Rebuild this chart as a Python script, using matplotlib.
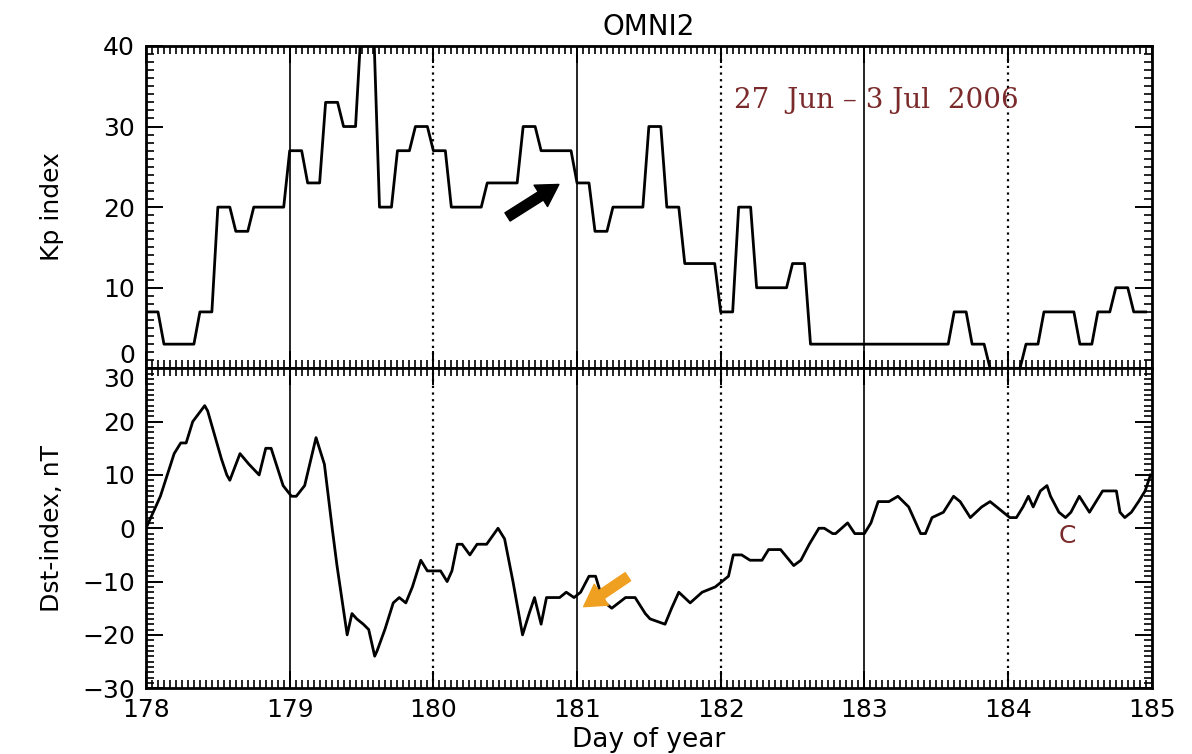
import numpy as np
import matplotlib

matplotlib.use("Agg")
import matplotlib.pyplot as plt
from matplotlib.ticker import MultipleLocator

# OMNI2, 27 Jun - 3 Jul 2006 (day of year 178-185)
day_ticks = [178, 179, 180, 181, 182, 183, 184, 185]
solid_days = [179, 181, 183]
dotted_days = [180, 182, 184]
kp_ticks = [0, 10, 20, 30, 40]
dst_ticks = [-30, -20, -10, 0, 10, 20, 30]

# Kp*10, one value per 3-hour interval, 8 per day
kp_3h = [
    7, 3, 3, 7, 20, 17, 20, 20,      # 178
    27, 23, 33, 30, 43, 20, 27, 30,  # 179
    27, 20, 20, 23, 23, 30, 27, 27,  # 180
    23, 17, 20, 20, 30, 20, 13, 13,  # 181
    7, 20, 10, 10, 13, 3, 3, 3,      # 182
    3, 3, 3, 3, 3, 7, 3, 0,          # 183
    0, 3, 7, 7, 3, 7, 10, 7,         # 184
]

# Dst (nT), hours since start of day 178
dst_hours = [
    0, 2.4, 4.7, 5.8, 6.7, 7.8, 9.8, 10.3, 12.6, 13.5, 14.0, 15.7, 17.2, 18.9, 20.0, 20.9, 22.9,
    24.3, 25.1, 26.5, 28.4, 29.8, 31.1, 31.9, 33.6, 34.4, 35.2, 36.3, 37.2, 38.2, 38.6, 39.9,
    41.3, 42.3, 43.4, 44.5, 45.9, 47.0,
    49.2, 50.3, 51.1, 52.0, 52.8, 54.1, 55.3, 56.9, 58.8, 59.9, 61.3, 62.9, 64.0, 64.9, 66.0,
    66.9, 68.0, 69.1, 70.2, 71.5,
    72.6, 74.0, 75.1, 75.9, 76.7, 77.8, 80.1, 81.7, 83.4, 84.2, 86.7, 87.8, 89.0, 90.9, 92.9, 95.1,
    96.2, 97.3, 98.1, 99.5, 100.9, 102.9, 104.0, 106.0, 108.2, 109.4, 110.8, 112.4, 113.3, 114.7,
    115.2, 117.2, 118.4, 120.0,
    121.1, 121.7, 122.3, 124.1, 125.6, 127.4, 129.4, 130.2, 131.3, 133.2, 134.9, 136.0, 137.7,
    139.6, 141.0, 142.1,
    144.3, 145.4, 146.5, 147.4, 148.2, 149.4, 150.5, 151.1, 152.5, 153.6, 154.5, 155.9, 157.6,
    158.7, 159.8, 161.3, 162.1, 162.7, 163.5, 164.6, 165.8, 166.9, 167.8,
]
dst_values = [
    0, 6, 14, 16, 16, 20, 23, 22, 13, 10, 9, 14, 12, 10, 15, 15, 8,
    6, 6, 8, 17, 12, 0, -7, -20, -16, -17, -18, -19, -24, -23, -19,
    -14, -13, -14, -11, -6, -8,
    -8, -10, -8, -3, -3, -5, -3, -3, 0, -2, -10, -20, -16, -13, -18,
    -13, -13, -13, -12, -13,
    -12, -9, -9, -12, -14, -15, -13, -13, -16, -17, -18, -15, -12, -14, -12, -11,
    -10, -9, -5, -5, -6, -6, -4, -4, -7, -6, -3, 0, 0, -1,
    -1, 1, -1, -1,
    1, 3, 5, 5, 6, 4, -1, -1, 2, 3, 6, 5, 2,
    4, 5, 4,
    2, 2, 4, 6, 4, 7, 8, 6, 3, 2, 3, 6, 3,
    5, 7, 7, 7, 3, 2, 3, 5, 7, 10,
]

# Kp is constant over each 3-hour interval; OMNI2 lists it hourly
kp_hourly = np.repeat(kp_3h, 3)
kp_time = 178 + np.arange(len(kp_hourly)) / 24.0
dst_time = 178 + np.array(dst_hours) / 24.0

plt.rcParams["font.family"] = ["DejaVu Sans"]

fig = plt.figure(figsize=(11.92, 7.54), dpi=100)
ax1 = fig.add_axes([0.1225, 0.5115, 0.8437, 0.4276])
ax2 = fig.add_axes([0.1225, 0.0873, 0.8437, 0.4242])


def style_axis(ax, ymin, ymax, yticks):
    ax.set_xlim(178, 185)
    ax.set_ylim(ymin, ymax)
    ax.set_xticks(day_ticks)
    ax.set_yticks(yticks)
    ax.xaxis.set_minor_locator(MultipleLocator(1 / 24.0))
    ax.yaxis.set_minor_locator(MultipleLocator(1))
    ax.tick_params(which="both", direction="in", top=True, right=True,
                   labelsize=18, colors="black")
    ax.tick_params(which="major", length=12, width=1.4, pad=8)
    ax.tick_params(which="minor", length=6, width=1.2)
    for sp in ax.spines.values():
        sp.set_linewidth(2)
    for d in solid_days:
        ax.axvline(d, color="black", linewidth=1.2, zorder=1)
    for d in dotted_days:
        ax.axvline(d, color="black", linewidth=1.6, linestyle=(0, (1, 2)), zorder=1)


arrow_style = "simple,head_width=1.3,head_length=1.1,tail_width=0.5"

style_axis(ax1, 0, 40, kp_ticks)
ax1.plot(kp_time, kp_hourly, color="black", linewidth=2)
ax1.tick_params(axis="x", labelbottom=False)
ax1.set_ylabel("Kp index", fontsize=18)
ax1.yaxis.set_label_coords(-0.0815, 0.5)
ax1.set_title("OMNI2", fontsize=20, pad=8)
ax1.text(182.09, 33.2, "27  Jun – 3 Jul  2006", fontsize=20, color="#7a2a2a",
         family=["DejaVu Serif"], va="center", ha="left")
ax1.annotate("", xy=(180.89, 23.0), xytext=(180.50, 18.6),
             arrowprops=dict(arrowstyle=arrow_style, color="black", mutation_scale=14))

style_axis(ax2, -30, 30, dst_ticks)
ax2.plot(dst_time, dst_values, color="black", linewidth=2)
ax2.tick_params(axis="x", pad=7)
ax2.set_ylabel("Dst-index, nT", fontsize=18)
ax2.yaxis.set_label_coords(-0.0815, 0.5)
ax2.set_xlabel("Day of year", fontsize=19, labelpad=4)
ax2.text(184.41, -1.5, "C", fontsize=18, color="#7a2a2a", ha="center", va="center")
ax2.annotate("", xy=(181.03, -15.0), xytext=(181.37, -8.8),
             arrowprops=dict(arrowstyle=arrow_style, color="#f0a020", mutation_scale=14))

# the two labels at the shared edge sit just above / below it, as in the original
ax1.get_yticklabels()[0].set_verticalalignment("bottom")
ax2.get_yticklabels()[-1].set_verticalalignment("top")

fig.savefig("out.png", dpi=100)
plt.close(fig)
